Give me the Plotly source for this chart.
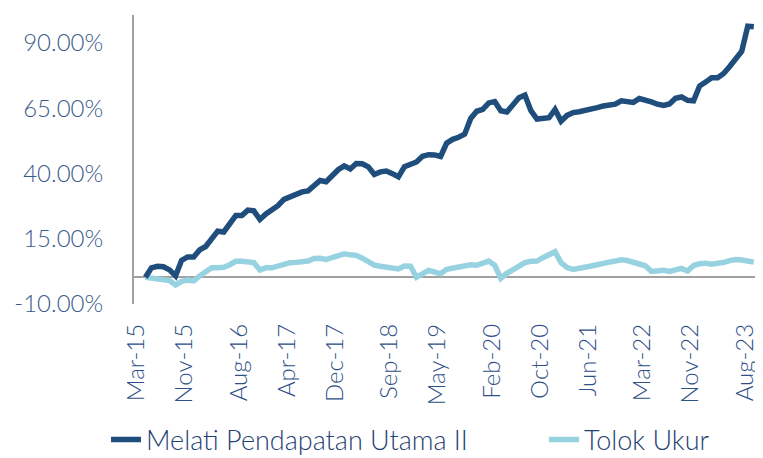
import plotly.graph_objects as go
import pandas as pd

# Monthly categories, Mar-2015 .. Aug-2023
months = list(pd.date_range("2015-03-01", periods=102, freq="MS").strftime("%b-%y"))

# Cumulative return (%)
melati = [
    0.0, 3.6, 4.2, 4.0, 2.8, 0.5, 6.5, 7.8, 7.8, 10.5,
    11.8, 15.2, 17.7, 17.4, 20.5, 23.7, 23.7, 25.8, 25.5, 22.2,
    24.3, 25.8, 27.5, 29.9, 31.0, 32.2, 32.8, 33.2, 35.0, 37.2,
    36.7, 39.2, 41.3, 42.8, 41.6, 43.7, 43.6, 42.4, 39.5, 40.5,
    40.8, 39.8, 38.6, 42.5, 43.4, 44.3, 46.5, 47.1, 47.0, 46.4,
    51.5, 53.0, 53.8, 55.0, 61.0, 63.8, 64.5, 67.0, 67.5, 64.0,
    63.5, 66.5, 69.0, 70.0, 64.0, 60.8, 61.0, 61.3, 64.5, 60.0,
    62.2, 63.3, 63.6, 64.0, 64.5, 65.2, 65.8, 66.0, 66.5, 67.8,
    67.3, 67.2, 68.7, 68.3, 67.4, 66.5, 66.0, 66.6, 68.8, 69.3,
    68.0, 67.8, 73.5, 75.0, 76.7, 76.7, 78.3, 81.0, 84.0, 86.9,
    96.5, 96.3,
]

tolok = [
    0.0, -0.2, -0.4, -0.7, -1.3, -3.0, -1.6, -1.1, -1.4, 0.5,
    2.0, 3.6, 3.6, 3.8, 4.8, 6.1, 6.1, 6.0, 5.6, 2.8,
    3.6, 3.6, 4.3, 5.2, 5.6, 5.7, 5.8, 6.2, 7.2, 7.3,
    6.8, 7.5, 8.0, 9.0, 8.6, 8.4, 7.3, 5.9, 4.6, 4.2,
    3.8, 3.5, 3.2, 4.3, 4.2, 0.0, 1.5, 2.6, 2.0, 1.3,
    3.0, 3.4, 3.7, 4.2, 4.8, 4.6, 5.2, 6.2, 4.6, -0.4,
    1.5, 2.9, 4.2, 5.6, 6.1, 6.2, 7.5, 8.6, 9.8, 5.6,
    3.7, 3.0, 3.3, 3.6, 4.3, 4.8, 5.5, 5.8, 6.2, 6.7,
    6.4, 5.8, 5.1, 4.4, 2.2, 2.6, 2.7, 2.2, 3.0, 3.4,
    2.4, 4.5, 5.2, 5.4, 5.0, 5.2, 5.7, 6.4, 6.8, 6.6,
    6.3, 5.8,
]

tick_labels = ["Mar-15", "Nov-15", "Aug-16", "Apr-17", "Dec-17", "Sep-18", "May-19",
               "Feb-20", "Oct-20", "Jun-21", "Mar-22", "Nov-22", "Aug-23"]
y_ticks = [-10, 15, 40, 65, 90]
y_tick_text = ["-10.00%", "15.00%", "40.00%", "65.00%", "90.00%"]

names = ["Melati Pendapatan Utama II", "Tolok Ukur"]
colors = ["#1F4E7D", "#97D2E0"]

FONT = "Lato, 'Open Sans', sans-serif"

# the page body adds an 8px margin; the figure is sized to fit the 763x458 window
W, H = 755, 450

# labels sit slightly left of their month in the reference
label_shift = 1.5
tick_pos = [months.index(t) - label_shift for t in tick_labels]

fig = go.Figure()
fig.add_trace(go.Scatter(x=months, y=tolok, mode="lines", name=names[1],
                         line=dict(color=colors[1], width=5.5), legend="legend2"))
fig.add_trace(go.Scatter(x=months, y=melati, mode="lines", name=names[0],
                         line=dict(color=colors[0], width=5.5), legend="legend"))

leg_common = dict(orientation="h", xref="container", yref="container",
                  xanchor="left", yanchor="middle", bgcolor="rgba(0,0,0,0)",
                  font=dict(family=FONT, size=27, color="#1F3F73", weight=300))

fig.update_layout(
    width=W, height=H,
    margin=dict(l=124, r=6, t=7, b=154),
    paper_bgcolor="white", plot_bgcolor="white",
    font=dict(family=FONT, size=23, color="#3A5B8C", weight=300),
    showlegend=True,
    legend=dict(x=98 / W, y=(H - 432) / H, **leg_common),
    legend2=dict(x=536 / W, y=(H - 432) / H, **leg_common),
)
fig.update_xaxes(
    type="category",
    range=[-1.9, 101.2],
    tickvals=tick_pos, ticktext=tick_labels,
    tickangle=-90, showgrid=False, showline=False, zeroline=False,
    ticks="", ticklabelstandoff=14,
    tickfont=dict(family=FONT, size=24, color="#2E5087", weight=300),
)
fig.update_yaxes(
    range=[-10.3, 100.8],
    tickvals=y_ticks, ticktext=y_tick_text,
    showgrid=False, showline=True, linecolor="#A0A0A0", linewidth=2,
    zeroline=True, zerolinecolor="#A0A0A0", zerolinewidth=2,
    ticks="", ticklabelstandoff=24,
    tickfont=dict(family=FONT, size=24, color="#3A5B8C", weight=300),
)

fig.write_html("out.html")
